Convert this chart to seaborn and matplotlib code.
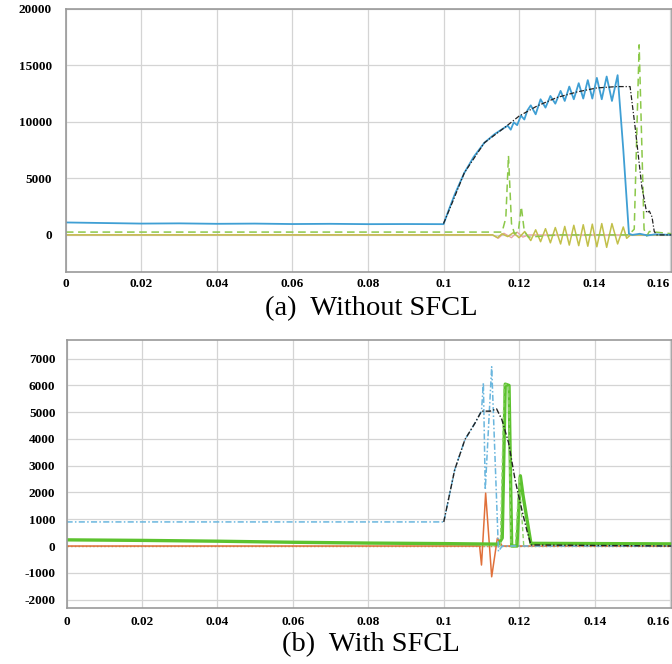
import matplotlib
matplotlib.use("Agg")
import matplotlib.pyplot as plt
import seaborn as sns
import pandas as pd

# ---------------- data: (a) Without SFCL ----------------
a_blue_t = [0, 0.01, 0.02, 0.03, 0.04, 0.05, 0.06, 0.07, 0.08, 0.09, 0.1,
            0.1015, 0.103, 0.1055, 0.108, 0.1108, 0.1135, 0.1161, 0.117, 0.1178, 0.1186,
            0.1195, 0.1205, 0.1214, 0.1222,
            0.1231, 0.1244, 0.1257, 0.1270, 0.1283, 0.1296, 0.1310, 0.1321, 0.1333, 0.1345,
            0.1358, 0.1370, 0.1382, 0.1394, 0.1406, 0.1419, 0.1432, 0.1446, 0.1461,
            0.1476, 0.1491, 0.150, 0.152, 0.154, 0.156, 0.1605]
a_blue_v = [1100, 1050, 1000, 1020, 980, 1000, 960, 980, 950, 960, 950,
            2300, 3600, 5480, 6900, 8140, 8900, 9470, 9650, 9300, 9950,
            9700, 10550, 10200, 11000,
            11450, 10660, 11990, 11250, 12280, 11600, 12730, 11840, 13110, 11990,
            13410, 12050, 13680, 12050, 13880, 11990, 14000, 11840, 14120,
            7550, 100, 0, 100, -50, 50, 0]

a_black_t = [0.1, 0.1025, 0.1055, 0.1108, 0.1161, 0.12, 0.1248, 0.13, 0.1354, 0.1406,
             0.1459, 0.1494, 0.1507, 0.1525, 0.1538, 0.1545, 0.1552, 0.1558, 0.1565, 0.1605]
a_black_v = [1000, 3000, 5480, 8140, 9470, 10500, 11400, 12140, 12640, 12990,
             13110, 13110, 9620, 4290, 1950, 2100, 1600, 300, 0, 0]

a_olive_t = [0, 0.113, 0.1143, 0.1155, 0.117, 0.1185, 0.12, 0.1215,
             0.1231, 0.1244, 0.1257, 0.1270, 0.1283, 0.1296, 0.1310, 0.1321, 0.1333, 0.1345,
             0.1358, 0.1370, 0.1382, 0.1394, 0.1406, 0.1419, 0.1432, 0.1446, 0.1461, 0.1476,
             0.1485, 0.1495, 0.1605]
a_olive_v = [0, 0, -250, 100, -150, 200, -250, 300,
             -500, 450, -600, 550, -700, 650, -800, 750, -900, 850,
             -950, 900, -1000, 950, -1050, 1000, -1100, 1000, -800, 700,
             -300, 0, 0]

a_pink_t = [0, 0.113, 0.1145, 0.116, 0.118, 0.1195, 0.121, 0.1225, 0.1605]
a_pink_v = [0, 0, -300, 150, -250, 250, -200, 0, 0]

a_green_t = [0, 0.1155, 0.1165, 0.1172, 0.118, 0.1188, 0.1198, 0.1206, 0.1214, 0.1225,
             0.13, 0.149, 0.1505, 0.1518, 0.1531, 0.1538, 0.1545, 0.1605]
a_green_v = [250, 250, 1500, 7000, 1000, 100, 300, 2500, 300, -200,
             0, 0, 500, 16800, 500, -100, 300, 100]

# ---------------- data: (b) With SFCL ----------------
b_blue_t = [0, 0.1, 0.1029, 0.1056, 0.1083, 0.1100, 0.1105, 0.1110, 0.1127, 0.1145, 0.1155, 0.1605]
b_blue_v = [900, 900, 2850, 3975, 4600, 5040, 6100, 2100, 6700, -200, 0, 0]

b_black_t = [0.1, 0.1029, 0.1056, 0.1083, 0.1100, 0.1123, 0.1140, 0.1154, 0.1172, 0.1189,
             0.1207, 0.1220, 0.1231, 0.1605]
b_black_v = [900, 2850, 3975, 4600, 5040, 5040, 5125, 4725, 3850, 2475,
             1350, 600, 40, 0]

b_orange_t = [0, 0.1095, 0.1100, 0.1111, 0.1127, 0.1142, 0.1155, 0.1605]
b_orange_v = [0, 0, -710, 1975, -1150, 290, 0, 0]

b_green_t = [0, 0.02, 0.04, 0.06, 0.08, 0.1, 0.1145, 0.1155, 0.1163, 0.1173, 0.1180,
             0.1194, 0.1203, 0.1210, 0.1231, 0.1605]
b_green_v = [230, 210, 180, 140, 110, 90, 70, 300, 6050, 6000, 0,
             0, 2625, 1900, 100, 80]

b_lgreen_t = [0.1150, 0.1160, 0.1165, 0.1172, 0.1178, 0.1190, 0.1200, 0.1212]
b_lgreen_v = [0, 6000, 6050, 6000, 0, 0, 2600, 0]

b_olive_t = [0, 0.1605]
b_olive_v = [0, 0]

x_ticks = [0, 0.02, 0.04, 0.06, 0.08, 0.1, 0.12, 0.14, 0.16]
x_labels = ["0", "0.02", "0.04", "0.06", "0.08", "0.1", "0.12", "0.14", "0.16"]
a_yticks = [0, 5000, 10000, 15000, 20000]
b_yticks = [-2000, -1000, 0, 1000, 2000, 3000, 4000, 5000, 6000, 7000]

captions = ["(a)  Without SFCL", "(b)  With SFCL"]

# ---------------- drawing ----------------
sns.set_style("white")
plt.rcParams["font.family"] = ["Liberation Serif", "DejaVu Serif"]
plt.rcParams["text.color"] = "black"
plt.rcParams["xtick.color"] = "#999999"
plt.rcParams["ytick.color"] = "#999999"
plt.rcParams["xtick.labelcolor"] = "black"
plt.rcParams["ytick.labelcolor"] = "black"

fig = plt.figure(figsize=(6.72, 6.64), dpi=100)
ax1 = fig.add_axes([0.098, 0.590, 0.902, 0.397])
ax2 = fig.add_axes([0.099, 0.085, 0.901, 0.403])


def line(ax, t, v, **kw):
    df = pd.DataFrame({"t": t, "v": v})
    sns.lineplot(data=df, x="t", y="v", ax=ax, estimator=None, sort=False, **kw)


# (a)
line(ax1, a_pink_t, a_pink_v, color="#e8a0a0", linewidth=0.9)
line(ax1, a_olive_t, a_olive_v, color="#c2c04a", linewidth=1.1)
line(ax1, a_green_t, a_green_v, color="#8cc84a", linewidth=1.1, linestyle=(0, (5, 3)))
line(ax1, a_blue_t, a_blue_v, color="#3f9fd4", linewidth=1.3)
line(ax1, a_black_t, a_black_v, color="#222222", linewidth=0.9, linestyle=(0, (4, 1.5, 1, 1.5)))

# (b)
line(ax2, b_olive_t, b_olive_v, color="#c8a040", linewidth=1.0, linestyle=":")
line(ax2, b_orange_t, b_orange_v, color="#e0703a", linewidth=1.1)
line(ax2, b_green_t, b_green_v, color="#5cc22e", linewidth=2.4)
line(ax2, b_lgreen_t, b_lgreen_v, color="#8ed46a", linewidth=1.0, linestyle=(0, (3, 2)))
line(ax2, b_blue_t, b_blue_v, color="#6ab6de", linewidth=1.1, linestyle=(0, (4, 1.5, 1, 1.5)))
line(ax2, b_black_t, b_black_v, color="#222222", linewidth=1.0, linestyle=(0, (4, 1.5, 1, 1.5)))

for ax, yt, ylim, ypad, xpad in [(ax1, a_yticks, (-3300, 20000), 10, 4),
                                  (ax2, b_yticks, (-2300, 7700), 8, 6)]:
    ax.set_xlim(0, 0.1605)
    ax.set_ylim(*ylim)
    ax.set_xlabel("")
    ax.set_ylabel("")
    ax.grid(True, color="#d4d4d4", linewidth=0.9)
    ax.set_axisbelow(True)
    for s in ax.spines.values():
        s.set_color("#999999")
        s.set_linewidth(1.2)
    ax.tick_params(axis="both", length=3, direction="in")
    ax.tick_params(axis="y", pad=ypad)
    ax.tick_params(axis="x", pad=xpad)
    ax.set_xticks(x_ticks)
    ax.set_xticklabels(x_labels, fontweight="bold", fontsize=9.5, color="black")
    ax.set_yticks(yt)
    ax.set_yticklabels([str(v) for v in yt], fontweight="bold", fontsize=9.5, color="black")
    ax.get_xticklabels()[-1].set_horizontalalignment("right")

fig.text(0.552, 0.535, captions[0], ha="center", va="center", fontsize=20.5, color="black")
fig.text(0.552, 0.029, captions[1], ha="center", va="center", fontsize=20.5, color="black")

fig.savefig("out.png", dpi=100)
